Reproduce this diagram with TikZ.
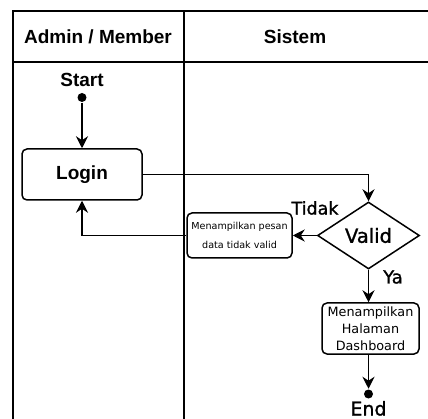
\documentclass[tikz,border=0pt]{standalone}
\usepackage{fontspec}
\setmainfont{Liberation Sans}
\newfontfamily\dejavu{DejaVu Sans}
\newfontfamily\dejavubold[FakeBold=1.2]{DejaVu Sans}
\usetikzlibrary{shapes.geometric}
\usetikzlibrary{arrows.meta,positioning,calc}

\begin{document}
\begin{tikzpicture}[x=1pt, y=-1pt,
            line width=1.5pt,
            lane/.style = {font=\fontsize{19}{22}\selectfont\bfseries},
            lbl/.style = {font=\dejavubold\fontsize{18}{20}\selectfont, inner sep=0pt},
            box/.style = {draw, rounded corners=5pt, align=center, inner sep=0pt},
            dot/.style = {circle, fill, inner sep=0pt, minimum size=9pt},
            flow/.style = {-{Stealth[length=12pt, width=12pt, inset=4pt]}}
            ]
    \useasboundingbox (0,0) rectangle (428,419);
    \draw (13,419) -- (13,11) -- (428,11);
    \draw (13,62) -- (428,62);
    \draw (184,11) -- (184,419);

    \node[lane] (admin) at (98,37) {Admin / Member};
    \node[lane] (sistem) at (295,37) {Sistem};

    \node[lane, anchor=base] (start) at (82,87) {Start};
    \node[dot] (startdot) at (82,97.5) {};
    \node[box, lane, minimum width=120pt, minimum height=51pt] (login) at (82,174.5) {Login};
    \node[draw, diamond, aspect=1.5, minimum width=102pt, minimum height=67pt, inner sep=0pt,
          font=\dejavubold\fontsize{19.5}{22}\selectfont] (valid) at (368.5,235.5) {Valid};
    \node[box, minimum width=105pt, minimum height=45pt,
          font=\dejavu\fontsize{9.6}{19}\selectfont] (pesan) at (239.5,235.5) {Menampilkan pesan\\data tidak valid};
    \node[box, minimum width=97pt, minimum height=51pt,
          font=\dejavu\fontsize{12.8}{17}\selectfont] (dashboard) at (370.5,328.5) {Menampilkan\\Halaman\\Dashboard};
    \node[dot] (enddot) at (368.5,394) {};
    \node[lbl, anchor=base, text depth=0pt, font=\dejavubold\fontsize{19}{22}\selectfont] (end) at (368.5,415.5) {End};
    \node[lbl, font=\dejavubold\fontsize{17.5}{20}\selectfont] (tidak) at (315,208) {Tidak};
    \node[lbl] (ya) at (393,277) {Ya};

    \draw[flow] (startdot) -- (login);
    \draw[flow] (login.east) -| (valid.north);
    \draw[flow] (valid.west) -- (pesan.east);
    \draw[flow] (pesan.west) -| (login.south);
    \draw[flow] (valid.south) -- (valid.south |- dashboard.north);
    \draw[flow] (dashboard.south -| enddot) -- (enddot);
\end{tikzpicture}
\end{document}
